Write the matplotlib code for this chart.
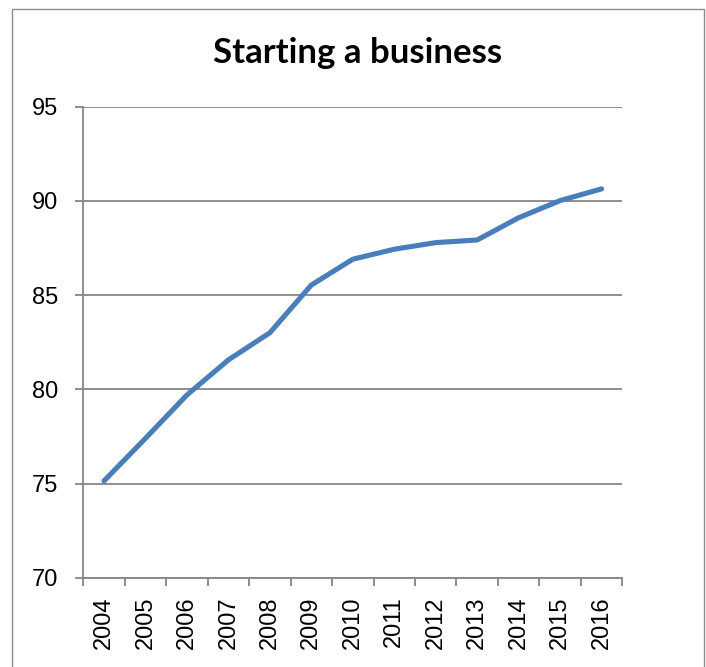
import matplotlib.pyplot as plt
from matplotlib.patches import Rectangle
from matplotlib.ticker import FixedLocator

years = ['2004', '2005', '2006', '2007', '2008', '2009', '2010',
         '2011', '2012', '2013', '2014', '2015', '2016']
scores = [75.15, 77.41, 79.71, 81.57, 83.01, 85.54, 86.91,
          87.44, 87.79, 87.93, 89.11, 90.02, 90.64]
y_ticks = [70, 75, 80, 85, 90, 95]

W, H = 706, 667
fig = plt.figure(figsize=(W / 100, H / 100), dpi=100)
fig.patch.set_facecolor('white')

# chart frame (bottom edge runs off the page)
fig.patches.append(Rectangle((12 / W, -0.02), (704 - 12) / W, 1.02 - 9 / H,
                             transform=fig.transFigure, fill=False,
                             edgecolor='#8c8c8c', linewidth=1.0))

ax = fig.add_axes([83.3 / W, 1 - 578 / H, (622.3 - 83.3) / W, (578 - 106.7) / H])

x = list(range(len(years)))
ax.plot(x, scores, color='#4a7ebb', linewidth=3.7, solid_capstyle='round',
        solid_joinstyle='round', zorder=3)

ax.set_xlim(-0.5, len(years) - 0.5)
ax.set_ylim(70, 95)
ax.set_yticks(y_ticks)
ax.set_xticks(x)
ax.set_xticklabels(years, rotation=90)
ax.xaxis.set_minor_locator(FixedLocator([i - 0.5 for i in range(len(years) + 1)]))

grey = '#868686'
ax.grid(axis='y', color=grey, linewidth=1.3)
ax.set_axisbelow(True)
for side in ['top', 'right']:
    ax.spines[side].set_visible(False)
for side in ['left', 'bottom']:
    ax.spines[side].set_color(grey)
    ax.spines[side].set_linewidth(1.3)

for lbl in ax.get_xticklabels() + ax.get_yticklabels():
    lbl.set_family(['Liberation Sans', 'DejaVu Sans'])

ax.tick_params(axis='y', direction='out', length=6, width=1.3, color=grey,
               labelsize=17, pad=12)
ax.tick_params(axis='x', which='major', length=0, labelsize=17, pad=13)
ax.tick_params(axis='x', which='minor', direction='out', length=6, width=1.3,
               color=grey)

fig.text(358 / W, 1 - 53 / H, 'Starting a business', ha='center', va='center',
         fontsize=25, fontweight='bold', family=['Lato', 'DejaVu Sans'])

fig.savefig('out.png', dpi=100)
